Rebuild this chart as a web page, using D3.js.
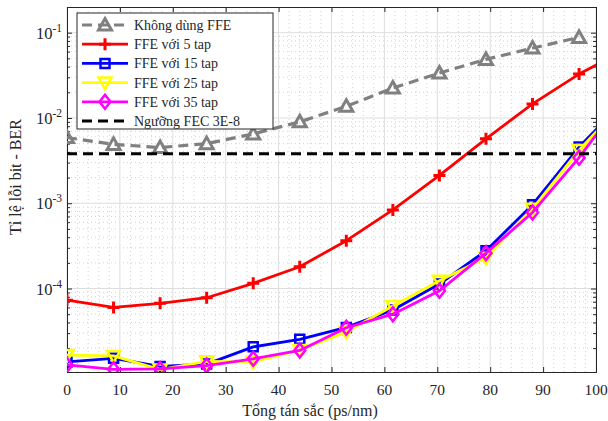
<!DOCTYPE html>
<html>
<head>
<meta charset="utf-8">
<script src="https://cdn.jsdelivr.net/npm/d3@7"></script>
<style>
  body { margin: 0; background: #fff; }
  text { font-family: "Liberation Serif", "Times New Roman", serif; fill: #262626; }
</style>
</head>
<body>
<svg id="chart" width="608" height="421"></svg>
<script>
// Total dispersion (ps/nm); the last point lies beyond the axis and is clipped
const dispersion = [0, 8.8, 17.6, 26.4, 35.2, 44, 52.8, 61.6, 70.4, 79.2, 88, 96.8, 105.6];

// BER per equaliser configuration
const berNoFFE = [0.0059, 0.0049, 0.0045, 0.0050, 0.0065, 0.0090, 0.0137, 0.0224, 0.0336, 0.0486, 0.066, 0.088];
const berFFE5  = [7.3e-5, 6.0e-5, 6.7e-5, 7.8e-5, 1.15e-4, 1.8e-4, 3.64e-4, 8.35e-4, 2.12e-3, 5.7e-3, 1.46e-2, 3.27e-2, 6.38e-2];
const berFFE15 = [1.38e-5, 1.52e-5, 1.22e-5, 1.30e-5, 2.07e-5, 2.54e-5, 3.5e-5, 5.6e-5, 1.13e-4, 2.78e-4, 9.6e-4, 4.56e-3, 1.66e-2];
const berFFE25 = [1.66e-5, 1.62e-5, 1.12e-5, 1.40e-5, 1.38e-5, 1.9e-5, 3.1e-5, 6.25e-5, 1.23e-4, 2.3e-4, 8.6e-4, 4.2e-3, 1.59e-2];
const berFFE35 = [1.27e-5, 1.13e-5, 1.14e-5, 1.25e-5, 1.5e-5, 1.88e-5, 3.47e-5, 5.0e-5, 9.4e-5, 2.6e-4, 7.8e-4, 3.42e-3, 1.84e-2];
const fecThreshold = 3.8e-3;

const seriesNames = ["Không dùng FFE", "FFE với 5 tap", "FFE với 15 tap", "FFE với 25 tap", "FFE với 35 tap", "Ngưỡng FEC 3E-8"];
const xTicks = [0, 10, 20, 30, 40, 50, 60, 70, 80, 90, 100];
const yTickExponents = [-4, -3, -2, -1];
const xLabel = "Tổng tán sắc (ps/nm)";
const yLabel = "Tỉ lệ lỗi bit - BER";

const svg = d3.select("#chart");
const L = 67, R = 596, T = 7, B = 372;
const x = d3.scaleLinear().domain([0, 100]).range([L, R]);
const y = d3.scaleLog().domain([1.05e-5, 0.2]).range([B, T]);

svg.append("defs").append("clipPath").attr("id", "plotClip")
  .append("rect").attr("x", L).attr("y", T).attr("width", R - L).attr("height", B - T);

// ---- grid ----
const grid = svg.append("g");
const xMinor = d3.range(0, 100.1, 2).filter(v => v % 10 !== 0);
const yMinor = [];
for (let e = -5; e <= -1; e++) for (let m = 2; m <= 9; m++) {
  const v = m * Math.pow(10, e);
  if (v > y.domain()[0] && v < y.domain()[1]) yMinor.push(v);
}
grid.selectAll(".xm").data(xMinor).join("line")
  .attr("x1", d => x(d)).attr("x2", d => x(d)).attr("y1", T).attr("y2", B)
  .attr("stroke", "#c8c8c8").attr("stroke-width", 0.8).attr("stroke-dasharray", "1,3");
grid.selectAll(".ym").data(yMinor).join("line")
  .attr("x1", L).attr("x2", R).attr("y1", d => y(d)).attr("y2", d => y(d))
  .attr("stroke", "#c8c8c8").attr("stroke-width", 0.8).attr("stroke-dasharray", "1,3");
grid.selectAll(".xM").data(xTicks).join("line")
  .attr("x1", d => x(d)).attr("x2", d => x(d)).attr("y1", T).attr("y2", B)
  .attr("stroke", "#dedede").attr("stroke-width", 1);
grid.selectAll(".yM").data(yTickExponents).join("line")
  .attr("x1", L).attr("x2", R).attr("y1", d => y(Math.pow(10, d))).attr("y2", d => y(Math.pow(10, d)))
  .attr("stroke", "#dedede").attr("stroke-width", 1);

// ---- axes (ticks inward, boxed) ----
const axisColor = "#262626";
const ax = svg.append("g");
const xAxisB = d3.axisBottom(x).tickValues(xTicks).tickSize(-5).tickFormat("");
const xAxisT = d3.axisTop(x).tickValues(xTicks).tickSize(-5).tickFormat("");
ax.append("g").attr("transform", `translate(0,${B})`).call(xAxisB);
ax.append("g").attr("transform", `translate(0,${T})`).call(xAxisT);
const yMajorVals = yTickExponents.map(e => Math.pow(10, e));
ax.append("g").attr("transform", `translate(${L},0)`).call(d3.axisLeft(y).tickValues(yMajorVals).tickSize(-5).tickFormat(""));
ax.append("g").attr("transform", `translate(${R},0)`).call(d3.axisRight(y).tickValues(yMajorVals).tickSize(-5).tickFormat(""));
ax.append("g").attr("transform", `translate(${L},0)`).call(d3.axisLeft(y).tickValues(yMinor).tickSize(-3).tickFormat(""));
ax.append("g").attr("transform", `translate(${R},0)`).call(d3.axisRight(y).tickValues(yMinor).tickSize(-3).tickFormat(""));
ax.selectAll("path.domain").attr("stroke", axisColor);
ax.selectAll(".tick line").attr("stroke", axisColor);

// tick labels
svg.append("g").selectAll("text").data(xTicks).join("text")
  .attr("x", d => x(d)).attr("y", B + 23).attr("text-anchor", "middle")
  .attr("font-size", 15.5).text(d => d);
const yl = svg.append("g").selectAll("text").data(yTickExponents).join("text")
  .attr("x", 62).attr("y", d => y(Math.pow(10, d)) + 6).attr("text-anchor", "end").attr("font-size", 16.5);
yl.append("tspan").text("10");
yl.append("tspan").attr("dy", -7).attr("font-size", 11.5).text(d => "-" + Math.abs(d));

// axis titles
svg.append("text").attr("x", 310).attr("y", 416).attr("text-anchor", "middle")
  .attr("font-size", 16).text(xLabel);
svg.append("text").attr("transform", "translate(21,177) rotate(-90)").attr("text-anchor", "middle")
  .attr("font-size", 16).text(yLabel);

// ---- marker shapes ----
const markerPath = {
  triUp:   "M0,-6.5L6.5,5L-6.5,5Z",
  triDown: "M0,6.5L6.5,-5L-6.5,-5Z",
  square:  "M-4.5,-4.5H4.5V4.5H-4.5Z",
  diamond: "M0,-7L5.5,0L0,7L-5.5,0Z",
  plus:    "M-6,0H6M0,-6V6"
};

const series = [
  { name: seriesNames[0], values: berNoFFE, color: "#808080", width: 3.2, dash: "10,6", marker: "triUp", mw: 3 },
  { name: seriesNames[1], values: berFFE5,  color: "#ff0000", width: 2.8, dash: null, marker: "plus", mw: 3 },
  { name: seriesNames[2], values: berFFE15, color: "#0000ff", width: 2.8, dash: null, marker: "square", mw: 2.5 },
  { name: seriesNames[3], values: berFFE25, color: "#ffff00", width: 2.8, dash: null, marker: "triDown", mw: 2.5 },
  { name: seriesNames[4], values: berFFE35, color: "#ff00ff", width: 2.8, dash: null, marker: "diamond", mw: 2.5 }
];

const plot = svg.append("g").attr("clip-path", "url(#plotClip)");
const line = d3.line().x(d => x(d[0])).y(d => y(d[1]));

series.forEach(s => {
  const pts = s.values.map((v, i) => [dispersion[i], v]);
  plot.append("path").datum(pts).attr("d", line)
    .attr("fill", "none").attr("stroke", s.color).attr("stroke-width", s.width)
    .attr("stroke-dasharray", s.dash).attr("stroke-linejoin", "round");
  plot.append("g").selectAll("path").data(pts).join("path")
    .attr("transform", d => `translate(${x(d[0])},${y(d[1])})`)
    .attr("d", markerPath[s.marker]).attr("fill", "none")
    .attr("stroke", s.color).attr("stroke-width", s.mw).attr("stroke-linejoin", "miter");
});

// FEC threshold
plot.append("line").attr("x1", x(0)).attr("x2", x(100))
  .attr("y1", y(fecThreshold)).attr("y2", y(fecThreshold))
  .attr("stroke", "#000").attr("stroke-width", 3).attr("stroke-dasharray", "10,6");

// ---- legend ----
const lg = svg.append("g").attr("transform", "translate(77,13)");
lg.append("rect").attr("width", 196).attr("height", 116)
  .attr("fill", "#fff").attr("stroke", axisColor).attr("stroke-width", 1);
const legendItems = series.concat([{ name: seriesNames[5], color: "#000", width: 3, dash: "10,6", marker: null }]);
legendItems.forEach((s, i) => {
  const cy = 12 + i * 19.2;
  lg.append("line").attr("x1", 5).attr("x2", 51).attr("y1", cy).attr("y2", cy)
    .attr("stroke", s.color).attr("stroke-width", s.width).attr("stroke-dasharray", s.dash);
  if (s.marker) {
    lg.append("path").attr("transform", `translate(28,${cy})`).attr("d", markerPath[s.marker])
      .attr("fill", "none").attr("stroke", s.color).attr("stroke-width", s.mw);
  }
  lg.append("text").attr("x", 57).attr("y", cy + 5).attr("font-size", 14).text(s.name);
});
</script>
</body>
</html>
